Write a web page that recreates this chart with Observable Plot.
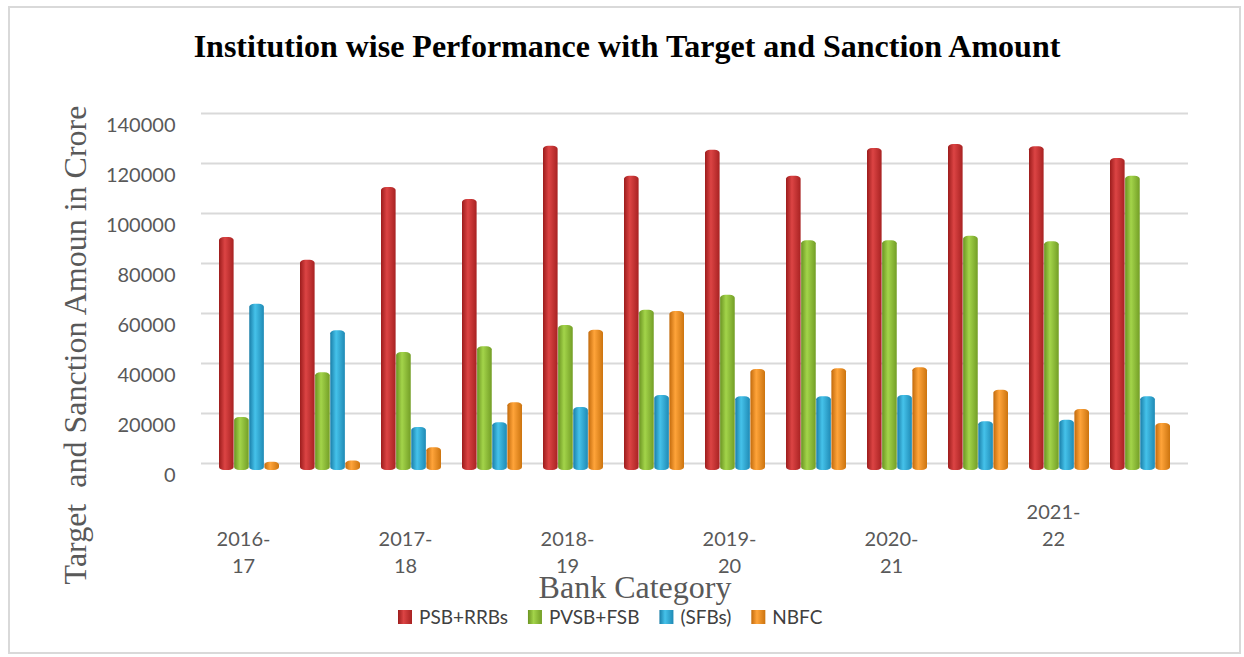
<!DOCTYPE html>
<html>
<head>
<meta charset="utf-8">
<script src="https://cdn.jsdelivr.net/npm/d3@7"></script>
<script src="https://cdn.jsdelivr.net/npm/@observablehq/plot@0.6"></script>
<style>
  body { margin: 0; background: #fff; }
  #wrap { position: relative; width: 1244px; height: 657px; overflow: hidden; background: #fff; }
  #frame { position: absolute; left: 8px; top: 6px; width: 1233px; height: 648px; border: 2px solid #d9d9d9; box-sizing: border-box; pointer-events: none; }
  #wrap svg { position: absolute; left: 0; top: 0; }
</style>
</head>
<body>
<div id="wrap"><div id="frame"></div></div>
<script>
// ---- data ----
const categories = ["G1","G2","G3","G4","G5","G6","G7","G8","G9","G10","G11","G12"];
const xTickLabels = ["2016-\n17","","2017-\n18","","2018-\n19","","2019-\n20","","2020-\n21","","2021-\n22",""];
const xTickRaised = [false,false,false,false,false,false,false,false,false,false,true,false];
const seriesNames = ["PSB+RRBs","PVSB+FSB","(SFBs)","NBFC"];
const psbRrbs = [90400, 81300, 110400, 105600, 126900, 114900, 125300, 114900, 126000, 127600, 126700, 122000];
const pvsbFsb = [18400, 36300, 44400, 46700, 55200, 61300, 67300, 89100, 89100, 90900, 88700, 114900];
const sfbs    = [63700, 53100, 14400, 16300, 22400, 27200, 26700, 26700, 27200, 16700, 17300, 26700];
const nbfc    = [500, 1000, 6300, 24300, 53300, 60800, 37600, 37900, 38300, 29300, 21600, 16000];
const yTicks = [0, 20000, 40000, 60000, 80000, 100000, 120000, 140000];

const seriesValues = [psbRrbs, pvsbFsb, sfbs, nbfc];
const gradStops = [
  ["#9c1c1c", "#dc4444", "#a82222"],
  ["#6b9422", "#a3d44a", "#739e26"],
  ["#1a7ea8", "#45c2ea", "#1f8ab5"],
  ["#c26a0c", "#ffa43a", "#cc740f"]
];

// ---- layout ----
const W = 1244, H = 657;
const mL = 201, mR = 56, mT = 113, mB = 194;
const padIn = 0.26, padOut = 0.165;
const step = (W - mL - mR) / (categories.length - padIn + 2 * padOut);
const bandW = step * (1 - padIn);
const barW = bandW / seriesNames.length;

const labelRows = categories.map((c, i) => ({cat: c, label: xTickLabels[i], raised: xTickRaised[i]})).filter(d => d.label);

const barMarks = seriesValues.map((vals, s) =>
  Plot.barY(categories.map((c, i) => ({cat: c, v: vals[i], series: seriesNames[s]})), {
    x: "cat", y: "v",
    fill: `url(#grad${s})`,
    insetLeft: s * barW, insetRight: (seriesNames.length - 1 - s) * barW,
    insetBottom: -7, rx: 5, ry: 3
  })
);

const svg = Plot.plot({
  width: W, height: H,
  marginLeft: mL, marginRight: mR, marginTop: mT, marginBottom: mB,
  style: {fontFamily: "Lato, sans-serif", background: "transparent", overflow: "visible"},
  x: {type: "band", domain: categories, paddingInner: padIn, paddingOuter: padOut, axis: null},
  y: {domain: [0, 140000], axis: null},
  marks: [
    Plot.ruleY(yTicks, {stroke: "#d9d9d9", strokeWidth: 2}),
    Plot.axisY(yTicks, {tickSize: 0, tickPadding: 26, dy: 12, fontSize: 20, fill: "#595959", tickFormat: d => String(d), label: null}),
    ...barMarks,
    Plot.text(labelRows.filter(d => !d.raised), {x: "cat", text: "label", frameAnchor: "bottom", lineAnchor: "top", dx: -6, dy: 63, lineHeight: 1.35, fontSize: 20, fill: "#595959"}),
    Plot.text(labelRows.filter(d => d.raised), {x: "cat", text: "label", frameAnchor: "bottom", lineAnchor: "top", dx: -6, dy: 36, lineHeight: 1.35, fontSize: 20, fill: "#595959"})
  ]
});

document.getElementById("wrap").insertBefore(svg, document.getElementById("frame"));
const s = d3.select(svg);

// gradients
const defs = s.insert("defs", ":first-child");
gradStops.forEach((g, i) => {
  const lg = defs.append("linearGradient").attr("id", "grad" + i).attr("x1", 0).attr("x2", 1).attr("y1", 0).attr("y2", 0);
  lg.append("stop").attr("offset", "0%").attr("stop-color", g[0]);
  lg.append("stop").attr("offset", "40%").attr("stop-color", g[1]);
  lg.append("stop").attr("offset", "100%").attr("stop-color", g[2]);
});

// title
s.append("text").attr("x", 627).attr("y", 57).attr("text-anchor", "middle")
  .style("font", "bold 32px 'Liberation Serif', serif").attr("fill", "#000")
  .text("Institution wise Performance with Target and Sanction Amount");

// y axis title
s.append("text").attr("transform", "translate(86,345) rotate(-90)").attr("text-anchor", "middle")
  .style("font", "32px 'Liberation Serif', serif").style("white-space", "pre").attr("fill", "#595959")
  .text("Target  and Sanction Amoun in Crore");

// x axis title
s.append("text").attr("x", 635).attr("y", 598).attr("text-anchor", "middle")
  .style("font", "32px 'Liberation Serif', serif").attr("fill", "#595959")
  .text("Bank Category");

// legend
const lg = s.append("g").attr("text-anchor", "start");
let lx = 398;
seriesNames.forEach((name, i) => {
  lg.append("rect").attr("x", lx).attr("y", 610).attr("width", 14).attr("height", 14)
    .attr("fill", `url(#grad${i})`);
  const t = lg.append("text").attr("x", lx + 21).attr("y", 624).attr("text-anchor", "start")
    .style("font", "19px Lato, sans-serif").attr("fill", "#404040").text(name);
  lx += 21 + t.node().getComputedTextLength() + 20;
});
</script>
</body>
</html>
